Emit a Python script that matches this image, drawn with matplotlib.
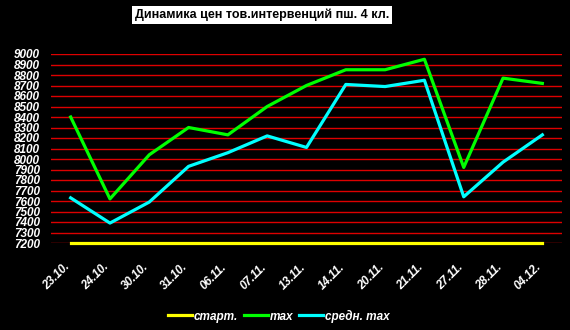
import matplotlib
matplotlib.use('Agg')
import matplotlib.pyplot as plt
import numpy as np

# Данные
dates = ['23.10.', '24.10.', '30.10.', '31.10.', '06.11.', '07.11.', '13.11.',
         '14.11.', '20.11.', '21.11.', '27.11.', '28.11.', '04.12.']
start = [7200] * 13
max_price = [8400, 7620, 8040, 8300, 8230, 8500, 8700,
             8850, 8850, 8950, 7920, 8770, 8720]
avg_max = [7630, 7390, 7590, 7930, 8060, 8220, 8110,
           8710, 8690, 8750, 7640, 7970, 8230]
y_ticks = list(range(7200, 9001, 100))

plt.rcParams['font.family'] = ['Liberation Sans', 'DejaVu Sans']

fig = plt.figure(figsize=(5.7, 3.3), dpi=100, facecolor='black')
ax = fig.add_axes([51 / 570, 1 - 243 / 330, 511 / 570, 189 / 330])
ax.set_facecolor('black')

x = np.arange(len(dates))
ax.plot(x, start, color='#ffff00', lw=2.3, label='старт.', clip_on=False, zorder=3)
ax.plot(x, max_price, color='#00ff00', lw=2.3, label='max', zorder=3)
ax.plot(x, avg_max, color='#00ffff', lw=2.3, label='средн. max', zorder=3)

ax.set_xlim(-0.5, len(dates) - 0.5)
ax.set_ylim(7200, 9000)
ax.set_yticks(y_ticks)
ax.set_yticklabels([str(v) for v in y_ticks])
ax.set_xticks(x)
ax.set_xticklabels([])

for lbl in ax.get_yticklabels():
    lbl.set_color('white')
    lbl.set_fontweight('bold')
    lbl.set_fontstyle('italic')
    lbl.set_fontsize(8.5)

# подписи дат, повёрнутые на 45°
for i, d in enumerate(dates):
    ax.annotate(d, xy=(i, 0), xycoords=ax.get_xaxis_transform(),
                xytext=(-7, -18), textcoords='offset pixels',
                rotation=45, ha='right', va='top', rotation_mode='anchor',
                color='white', fontsize=8.5, fontweight='bold', fontstyle='italic',
                annotation_clip=False)

ax.tick_params(length=0, pad=8, axis='y')
ax.tick_params(length=0, axis='x')
ax.yaxis.grid(True, color='#dd0000', lw=1)
ax.set_axisbelow(True)
for s in ax.spines.values():
    s.set_visible(False)

fig.text(262 / 570, 1 - 15 / 330, 'Динамика цен тов.интервенций пш. 4 кл.',
         ha='center', va='center', fontsize=9, fontweight='bold', color='black',
         bbox=dict(facecolor='white', edgecolor='none', pad=1.8))

leg = fig.legend(loc='center', bbox_to_anchor=(279 / 570, 1 - 316 / 330), ncol=3,
                 frameon=False, handlelength=2.0, handletextpad=0.2,
                 columnspacing=0.5,
                 prop={'weight': 'bold', 'style': 'italic', 'size': 8.5})
for t in leg.get_texts():
    t.set_color('white')

fig.savefig('out.png', dpi=100, facecolor='black')
